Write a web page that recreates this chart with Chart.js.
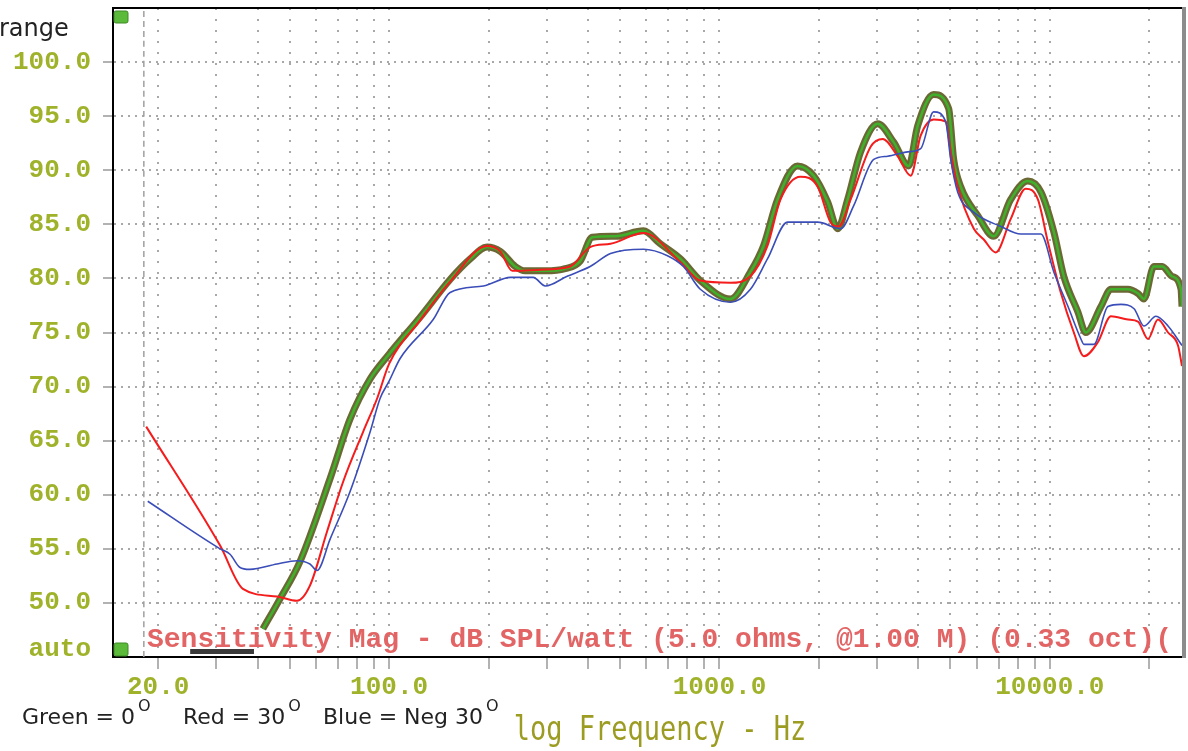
<!DOCTYPE html>
<html lang="en">
<head>
<meta charset="UTF-8">
<title>Sensitivity Mag</title>
<style>
    html, body { margin: 0; padding: 0; background: #fff; }
    #wrap { width: 1188px; height: 751px; position: relative; }
</style>
</head>
<body>
<div id="wrap"><canvas id="chart"></canvas></div>
<script src="https://cdn.jsdelivr.net/npm/chart.js@4"></script>
<script>
    // 0 degrees (green)
    var greenFreq = [41.5, 46.8, 53.7, 66.3, 76.2, 87.6, 100, 124, 153, 176, 198, 217, 241, 258, 297, 341, 379, 412, 484, 589, 662, 762, 875, 1079, 1241, 1359, 1499, 1722, 1927, 2124, 2280, 2443, 2675, 3013, 3367, 3738, 3981, 4450, 4941, 5117, 5370, 6053, 6761, 7614, 8570, 9393, 10280, 11020, 12160, 12850, 14280, 15310, 17230, 18500, 19270, 20650, 21900, 23400, 24950, 25120];
    var greenDb   = [47.6, 50.4, 53.8, 61.5, 67.0, 70.7, 73.0, 76.4, 79.9, 81.8, 82.9, 82.5, 81.1, 80.7, 80.7, 80.9, 81.6, 83.8, 83.9, 84.4, 83.2, 81.8, 79.8, 78.1, 80.6, 83.0, 87.3, 90.4, 89.5, 87.1, 84.6, 87.3, 91.7, 94.3, 92.6, 90.4, 94.1, 97.0, 95.7, 91.0, 88.5, 85.8, 83.9, 87.3, 89.0, 88.0, 84.3, 80.2, 76.9, 75.0, 77.4, 79.0, 79.0, 78.6, 78.1, 81.1, 81.1, 80.2, 79.0, 77.4];

    // green trace clipped at the bottom edge
    var greenClipFreq = [25, 39];
    var greenClipDb   = [45.5, 45.5];

    // 30 degrees (red)
    var redFreq = [18.4, 30.8, 36.1, 45.8, 52.6, 57.6, 64.9, 72.6, 83.4, 92.0, 100, 124, 153, 198, 217, 236, 287, 353, 406, 468, 589, 762, 875, 1079, 1241, 1397, 1530, 1758, 1982, 2168, 2294, 2495, 2871, 3120, 3461, 3793, 4064, 4450, 4839, 5012, 5260, 5888, 6310, 6855, 7614, 8450, 9200, 9860, 10790, 11820, 12680, 13970, 15310, 17230, 18490, 19820, 21240, 22790, 24430, 25120];
    var redDb   = [66.3, 55.3, 51.3, 50.6, 50.2, 51.6, 56.6, 61.2, 65.8, 68.9, 72.1, 76.1, 79.7, 83.0, 82.5, 80.7, 80.8, 81.1, 82.9, 83.2, 84.2, 81.5, 79.8, 79.6, 80.2, 83.0, 87.3, 89.4, 88.5, 85.2, 84.8, 87.3, 92.2, 92.9, 91.3, 89.5, 93.2, 94.7, 94.5, 91.7, 88.5, 84.6, 83.6, 82.4, 85.5, 88.3, 87.3, 83.4, 78.7, 75.0, 72.8, 74.1, 76.5, 76.2, 76.0, 74.4, 76.2, 75.0, 73.8, 71.9];

    // neg 30 degrees (blue)
    var blueFreq = [18.6, 30.8, 33.0, 35.3, 37.9, 45.8, 52.6, 57.6, 60.5, 66.3, 76.2, 87.6, 93.9, 100, 108, 136, 153, 193, 233, 273, 297, 346, 406, 468, 589, 696, 778, 875, 1079, 1241, 1397, 1607, 1982, 2327, 2547, 2931, 3228, 3715, 4064, 4450, 4839, 5012, 5260, 5888, 7112, 8166, 9393, 10280, 11350, 12420, 12680, 13590, 14990, 16410, 17990, 19270, 20950, 22790, 25120];
    var blueDb   = [59.4, 55.0, 54.5, 53.3, 53.1, 53.6, 53.9, 53.6, 53.0, 55.9, 60.3, 65.8, 68.9, 70.5, 72.6, 76.2, 78.7, 79.3, 80.1, 80.1, 79.3, 80.2, 81.1, 82.3, 82.7, 82.1, 81.1, 79.0, 77.8, 79.0, 81.8, 85.2, 85.2, 84.6, 86.7, 91.0, 91.3, 91.7, 92.0, 95.4, 94.5, 91.0, 88.0, 86.1, 84.8, 84.1, 84.1, 80.6, 77.4, 74.4, 73.9, 73.9, 77.4, 77.6, 77.2, 75.6, 76.5, 75.6, 73.8];

    // axes
    var xMin = 14.6, xMax = 25120;
    var yMin = 45, yMax = 105;
    var xTickValues = [20, 30, 40, 50, 60, 70, 80, 90, 100, 200, 300, 400, 500, 600, 700, 800, 900, 1000, 2000, 3000, 4000, 5000, 6000, 7000, 8000, 9000, 10000, 20000];
    var xLabelValues = [20, 100, 1000, 10000];
    var yTickValues = [50, 55, 60, 65, 70, 75, 80, 85, 90, 95, 100];
    var markerFreq = 18.1;

    var seriesLabels = ['Green = 0', 'Red = 30', 'Blue = Neg 30'];
    var plotNote = 'Sensitivity Mag - dB SPL/watt (5.0 ohms, @1.00 M) (0.33 oct)(';
    var xTitle = 'log Frequency - Hz';

    function pts(f, d) {
        return f.map(function (v, i) { return { x: v, y: d[i] }; });
    }

    var tickFont = { family: 'Liberation Mono', size: 26, weight: 'bold' };
    var tickColor = '#9fb22a';

    var decor = {
        id: 'decor',
        beforeDatasetsDraw: function (chart) {
            var ctx = chart.ctx, a = chart.chartArea;
            ctx.save();
            ctx.font = 'bold 28px "Liberation Mono"';
            ctx.fillStyle = '#e26464';
            ctx.textBaseline = 'middle';
            ctx.fillText(plotNote, a.left + 34, a.bottom - 17);
            ctx.restore();
        },
        afterDraw: function (chart) {
            var ctx = chart.ctx, a = chart.chartArea;
            ctx.save();
            // frame top and right
            ctx.fillStyle = '#000';
            ctx.fillRect(a.left - 1, a.top - 1, a.right - a.left + 2, 2);
            ctx.fillStyle = '#8c8c8c';
            ctx.fillRect(a.right, a.top - 1, 4, a.bottom - a.top + 2);
            // little green blocks
            ctx.fillStyle = '#5cba3a';
            ctx.strokeStyle = '#3d8a25';
            ctx.lineWidth = 1;
            ctx.beginPath();
            ctx.roundRect(a.left + 1, a.top + 3, 14, 12, 2);
            ctx.roundRect(a.left + 1, a.bottom - 14, 14, 13, 2);
            ctx.fill();
            ctx.stroke();

            // "auto" at the foot of the y axis
            ctx.font = 'bold 26px "Liberation Mono"';
            ctx.fillStyle = tickColor;
            ctx.textAlign = 'right';
            ctx.textBaseline = 'middle';
            ctx.fillText('auto', 91, a.bottom - 8);

            // cut-off word at the top-left
            ctx.textAlign = 'left';
            ctx.textBaseline = 'alphabetic';
            ctx.fillStyle = '#222';
            ctx.font = '24px "DejaVu Sans"';
            ctx.fillText('range', -1, 36);

            // series key
            var xs = [22, 183, 323];
            seriesLabels.forEach(function (t, i) {
                ctx.font = '22px "DejaVu Sans"';
                ctx.fillText(t, xs[i], 724);
                var w = ctx.measureText(t).width;
                ctx.font = '16px "DejaVu Sans"';
                ctx.fillText('O', xs[i] + w + 3, 711);
            });

            // x axis title
            ctx.translate(660, 731);
            ctx.scale(1, 1.25);
            ctx.font = '27px "DejaVu Sans Mono"';
            ctx.fillStyle = '#9c9c22';
            ctx.textAlign = 'center';
            ctx.textBaseline = 'middle';
            ctx.fillText(xTitle, 0, 0);
            ctx.restore();
        }
    };

    var line = { pointRadius: 0, fill: false, cubicInterpolationMode: 'monotone' };

    new Chart(document.getElementById('chart'), {
        type: 'line',
        data: {
            datasets: [
                Object.assign({ data: pts(blueFreq, blueDb), borderColor: '#3a4db8', borderWidth: 1.6, tension: 0 }, line),
                Object.assign({ data: pts(redFreq, redDb), borderColor: '#f41c1c', borderWidth: 2 }, line),
                Object.assign({ data: pts(greenFreq, greenDb), borderColor: '#3fb02a', borderWidth: 2.5 }, line),
                Object.assign({ data: pts(greenFreq, greenDb), borderColor: '#6c6835', borderWidth: 7 }, line),
                Object.assign({ data: pts(greenClipFreq, greenClipDb), borderColor: '#3a3a3a', borderWidth: 5 }, line),
                Object.assign({ data: [{ x: markerFreq, y: yMin }, { x: markerFreq, y: yMax }], borderColor: '#a0a0a0', borderWidth: 1.5, borderDash: [6, 4] }, line)
            ]
        },
        options: {
            responsive: true,
            maintainAspectRatio: false,
            animation: false,
            layout: { padding: { left: 0, top: 8, right: 6, bottom: 0 } },
            plugins: { legend: { display: false }, tooltip: { enabled: false } },
            scales: {
                x: {
                    type: 'logarithmic',
                    min: xMin,
                    max: xMax,
                    afterBuildTicks: function (scale) {
                        scale.ticks = xTickValues.map(function (v) { return { value: v }; });
                    },
                    afterFit: function (scale) {
                        scale.height = 94;
                        scale.paddingLeft = 0; scale.paddingRight = 0;
                    },
                    border: { color: '#000', width: 2, dash: [2, 9] },
                    grid: { color: '#a8a8a8', lineWidth: 2, tickLength: 12, tickColor: '#999', tickWidth: 1.5, tickBorderDash: [] },
                    ticks: {
                        autoSkip: false, maxRotation: 0, padding: 3,
                        color: tickColor, font: tickFont,
                        callback: function (v) { return xLabelValues.indexOf(v) >= 0 ? v.toFixed(1) : ''; }
                    }
                },
                y: {
                    type: 'linear',
                    min: yMin,
                    max: yMax,
                    afterBuildTicks: function (scale) {
                        scale.ticks = yTickValues.map(function (v) { return { value: v }; });
                    },
                    afterFit: function (scale) {
                        scale.width = 113;
                        scale.paddingTop = 0; scale.paddingBottom = 0;
                    },
                    border: { color: '#000', width: 2, dash: [2, 5] },
                    grid: { color: '#a8a8a8', lineWidth: 2, tickLength: 10, tickColor: '#999', tickWidth: 1.5, tickBorderDash: [] },
                    ticks: {
                        padding: 12, color: tickColor, font: tickFont,
                        callback: function (v) { return v.toFixed(1); }
                    }
                }
            }
        },
        plugins: [decor]
    });
</script>
</body>
</html>
